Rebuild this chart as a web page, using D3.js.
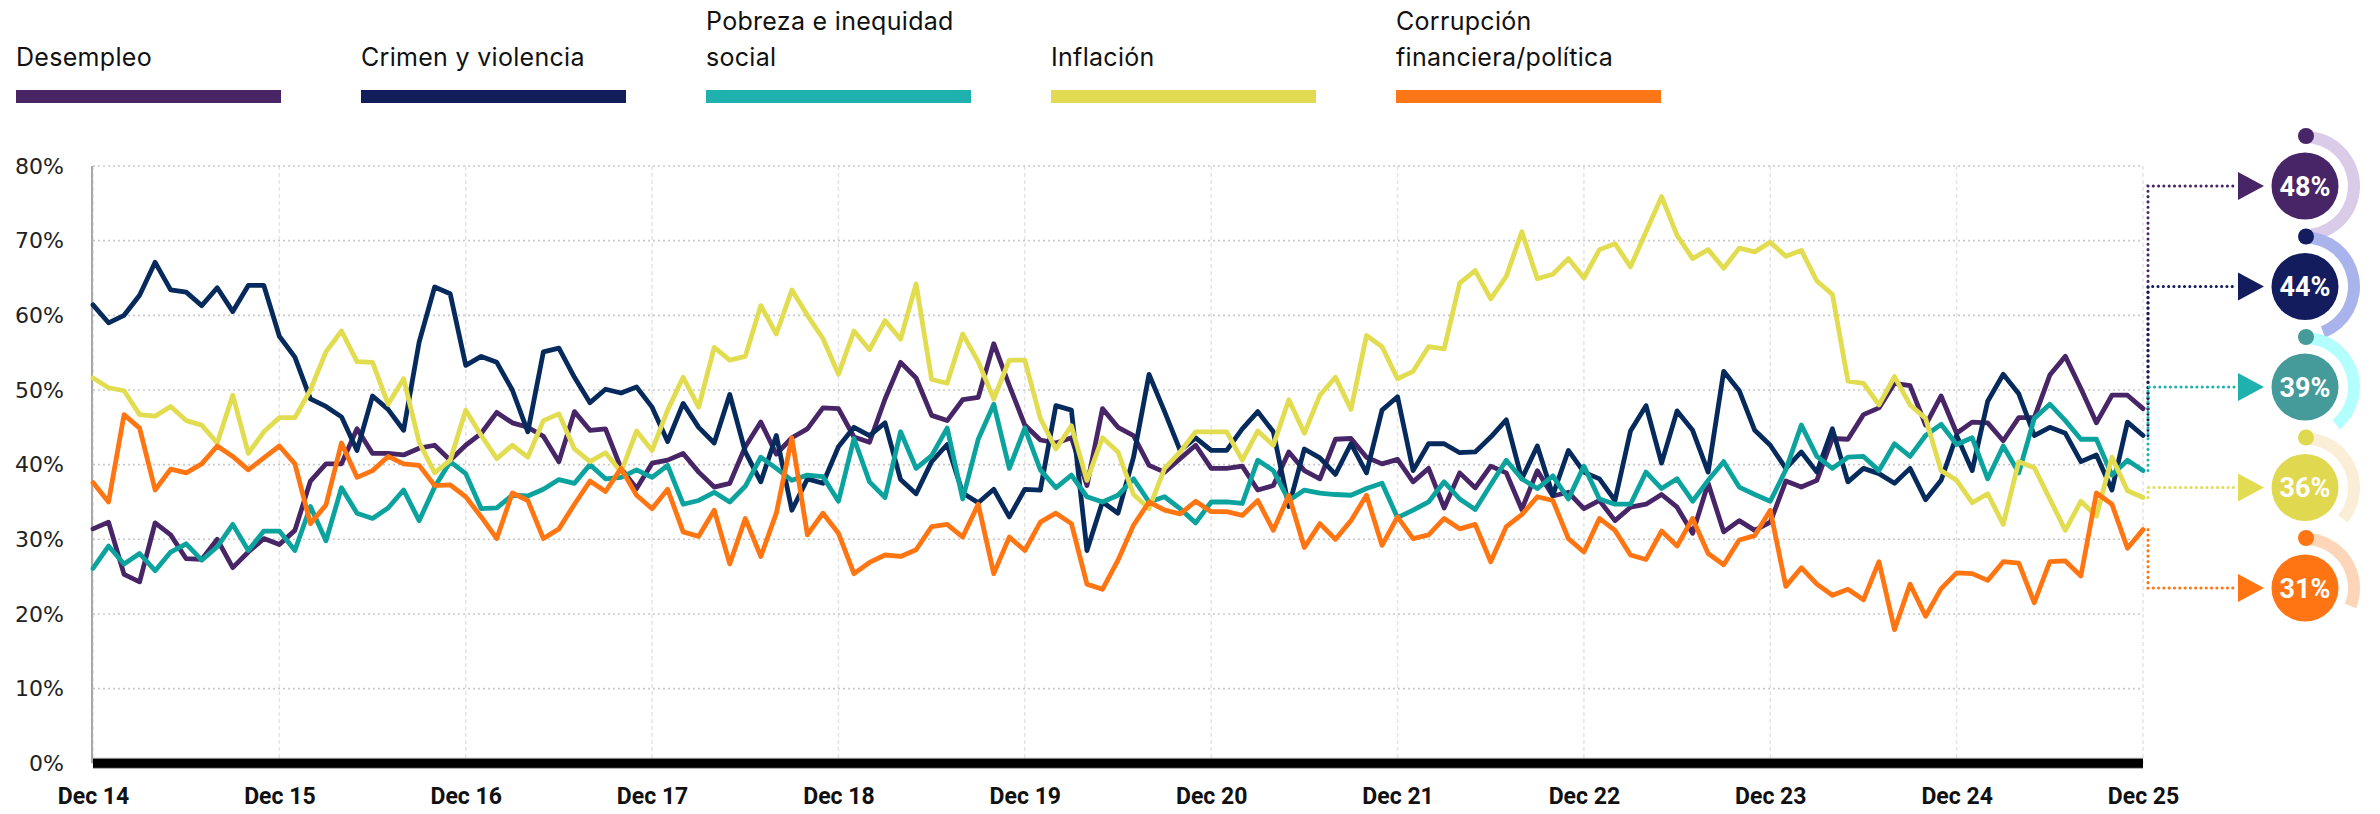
<!DOCTYPE html>
<html><head><meta charset="utf-8">
<script src="https://cdn.jsdelivr.net/npm/d3@7"></script>
<style>
html,body{margin:0;padding:0;background:#fff;}
svg{display:block;}
</style></head>
<body>
<svg id="chart" width="2380" height="814"></svg>
<script>
const seriesNames = ["Desempleo", "Crimen y violencia", "Pobreza e inequidad social", "Inflación", "Corrupción financiera/política"];
const legendLines = [["Desempleo"], ["Crimen y violencia"], ["Pobreza e inequidad", "social"], ["Inflación"], ["Corrupción", "financiera/política"]];
const xTickLabels = ["Dec 14","Dec 15","Dec 16","Dec 17","Dec 18","Dec 19","Dec 20","Dec 21","Dec 22","Dec 23","Dec 24","Dec 25"];
const yTicks = [0,10,20,30,40,50,60,70,80];

const desempleo = [31.4,32.3,25.3,24.3,32.2,30.6,27.4,27.3,30.0,26.2,28.3,30.1,29.3,31.2,37.8,40.1,40.1,44.8,41.5,41.5,
41.3,42.2,42.6,40.6,42.6,44.2,47.0,45.6,45.0,43.8,40.4,47.1,44.6,44.8,39.5,36.8,40.2,40.6,41.5,39.0,
37.0,37.5,42.4,45.7,41.4,43.6,44.8,47.6,47.5,43.7,43.0,48.8,53.7,51.6,46.6,45.9,48.7,49.0,56.2,50.6,
45.3,43.3,42.9,43.6,37.2,47.5,45.0,43.9,39.9,39.0,40.8,42.6,39.5,39.5,39.8,36.6,37.2,41.7,39.2,38.1,
43.4,43.5,41.0,40.1,40.7,37.7,39.5,34.2,38.9,36.9,39.8,38.9,34.0,39.2,35.8,36.3,34.1,35.2,32.5,34.3,
34.7,36.0,34.3,30.8,37.5,31.0,32.5,31.2,32.3,37.8,37.0,37.9,43.5,43.4,46.7,47.6,50.9,50.6,45.3,49.2,
44.2,45.7,45.6,43.2,46.3,46.3,52.0,54.5,50.2,45.6,49.3,49.3,47.5];

const crimen = [61.4,59.0,60.0,62.7,67.1,63.4,63.1,61.3,63.7,60.5,64.0,64.0,57.2,54.4,48.8,47.8,46.4,41.9,49.2,47.4,
44.6,56.4,63.8,62.9,53.3,54.5,53.7,50.0,44.4,55.1,55.6,51.7,48.3,50.1,49.6,50.4,47.7,43.1,48.2,45.0,
42.9,49.4,41.7,37.7,43.9,33.9,38.1,37.5,42.4,45.0,43.9,45.6,38.0,36.1,40.4,42.7,36.2,34.9,36.7,33.0,
36.7,36.6,47.9,47.3,28.5,35.0,33.5,41.0,52.1,47.1,41.9,43.6,41.9,41.9,44.8,47.1,44.4,34.4,42.1,40.9,
38.7,42.8,38.9,47.3,49.1,39.2,42.8,42.8,41.6,41.7,43.7,46.0,38.1,42.5,35.9,41.9,39.0,38.1,35.2,44.5,
47.9,40.2,47.2,44.6,39.0,52.5,49.9,44.6,42.6,39.5,41.7,39.0,44.8,37.7,39.5,38.8,37.5,39.5,35.3,37.9,
43.9,39.2,48.5,52.1,49.5,43.9,45.0,44.2,40.4,41.3,36.6,45.7,43.9];

const pobreza = [26.1,29.1,26.7,28.1,25.8,28.3,29.4,27.2,29.0,32.0,28.5,31.1,31.1,28.5,34.4,29.8,36.9,33.5,32.8,34.2,
36.6,32.5,37.0,40.4,38.8,34.1,34.2,35.9,35.8,36.7,38.0,37.5,40.0,38.1,38.3,39.3,38.3,39.9,34.7,35.2,
36.3,35.0,37.1,41.0,39.5,37.9,38.6,38.4,35.1,43.5,37.7,35.6,44.4,39.5,41.2,44.9,35.4,43.4,48.1,39.5,
44.9,39.3,36.9,38.6,35.7,35.0,35.9,38.1,35.0,35.7,34.1,32.2,35.0,35.0,34.8,40.6,39.2,35.2,36.6,36.2,
36.0,35.9,36.8,37.5,32.9,33.9,35.0,37.7,35.4,34.0,37.3,40.6,38.1,36.8,38.5,35.4,39.8,35.4,34.7,34.7,
39.0,36.8,38.1,35.1,37.9,40.4,37.0,36.0,35.1,39.3,45.3,41.1,39.5,41.0,41.1,39.2,42.8,41.1,43.9,45.4,
42.7,43.6,38.1,42.5,38.9,46.2,48.1,45.9,43.4,43.4,38.6,40.6,39.2];

const inflacion = [51.6,50.3,49.9,46.7,46.5,47.8,45.9,45.3,42.9,49.3,41.5,44.4,46.3,46.3,50.0,55.1,57.9,53.8,53.7,48.1,
51.5,43.0,38.9,40.6,47.3,43.9,40.8,42.6,41.0,45.9,46.8,42.1,40.4,41.6,39.0,44.5,41.9,47.3,51.7,47.7,
55.7,54.0,54.5,61.3,57.5,63.4,60.0,56.9,52.1,57.9,55.4,59.3,56.8,64.2,51.4,50.9,57.5,53.8,48.8,54.0,
54.0,46.2,42.1,45.2,37.9,43.6,41.7,36.0,34.1,39.5,41.7,44.4,44.4,44.4,40.6,44.5,42.6,48.7,44.2,49.3,
51.7,47.4,57.3,55.8,51.5,52.5,55.8,55.5,64.3,66.0,62.2,65.2,71.2,64.9,65.5,67.6,65.0,68.8,69.6,66.5,
71.2,75.9,70.7,67.6,68.8,66.3,69.0,68.5,69.8,67.9,68.7,64.6,62.8,51.2,50.9,48.0,51.8,48.0,46.2,39.2,
37.9,34.9,36.1,32.0,40.4,39.6,35.4,31.2,35.1,33.1,41.0,36.5,35.6];

const corrupcion = [37.6,35.0,46.7,44.9,36.6,39.4,38.9,40.1,42.5,41.1,39.3,40.9,42.5,40.1,32.1,34.6,42.9,38.3,39.2,41.1,
40.1,39.9,37.2,37.3,35.7,33.0,30.1,36.2,35.2,30.1,31.4,34.7,37.8,36.4,39.5,35.9,34.1,36.7,31.0,30.4,
33.9,26.7,32.8,27.7,33.5,43.6,30.6,33.5,30.8,25.4,26.9,27.9,27.7,28.6,31.7,32.0,30.3,34.7,25.4,30.3,
28.5,32.3,33.5,32.1,24.0,23.3,27.2,31.9,35.0,33.9,33.4,35.1,33.7,33.7,33.2,35.2,31.2,35.9,28.9,32.1,
30.0,32.5,35.9,29.2,33.0,30.1,30.6,32.8,31.4,32.0,27.0,31.7,33.3,35.7,35.2,30.1,28.3,32.8,31.2,27.9,
27.3,31.1,29.1,32.8,28.1,26.6,29.9,30.5,33.9,23.7,26.2,24.0,22.5,23.3,21.9,27.0,17.9,24.0,19.7,23.4,
25.5,25.4,24.5,27.0,26.8,21.5,27.0,27.1,25.1,36.2,34.7,28.8,31.3];

const seriesData = [desempleo, crimen, pobreza, inflacion, corrupcion];
const lineColors = ["#472566", "#062a5c", "#0ca39f", "#e2dc50", "#ff7512"];
const legendColors = ["#4a2566", "#121d5b", "#1fb1ae", "#e2db52", "#ff7616"];
const badgeColors = ["#472566", "#131c5c", "#459a9a", "#e0d94f", "#ff7514"];
const arcColors = ["#dacbe9", "#aab4ec", "#b3fffd", "#faeed6", "#fdd6b9"];
const connectorColors = ["#472566", "#131c5c", "#1fb1ae", "#e2dc52", "#ff7514"];

const svg = d3.select("#chart");
const x = d3.scaleLinear().domain([0, 132]).range([93, 2143]);
const y = d3.scaleLinear().domain([0, 80]).range([763.3, 166]);

// Legend
const leg = svg.append("g");
legendLines.forEach((lines, i) => {
  const lx = 16 + i * 345;
  const t = leg.append("text").attr("x", lx).attr("font-family", "Inter, Roboto, sans-serif")
    .attr("font-size", 25).attr("letter-spacing", 0.3).attr("fill", "#111");
  if (lines.length === 1) {
    t.append("tspan").attr("x", lx).attr("y", 66).text(lines[0]);
  } else {
    t.append("tspan").attr("x", lx).attr("y", 30).text(lines[0]);
    t.append("tspan").attr("x", lx).attr("y", 66).text(lines[1]);
  }
  leg.append("rect").attr("x", lx).attr("y", 90).attr("width", 265).attr("height", 13).attr("fill", legendColors[i]);
});

// Vertical gridlines
svg.append("g").selectAll("line").data(xTickLabels).join("line")
  .attr("x1", (d, i) => x(i * 12)).attr("x2", (d, i) => x(i * 12))
  .attr("y1", y(80)).attr("y2", y(0))
  .attr("stroke", "#e4e4e4").attr("stroke-width", 1.5).attr("stroke-dasharray", "4,3");

// Horizontal gridlines
svg.append("g").selectAll("line").data(yTicks.filter(d => d > 0)).join("line")
  .attr("x1", x(0)).attr("x2", x(132))
  .attr("y1", d => y(d)).attr("y2", d => y(d))
  .attr("stroke", "#c9c9c9").attr("stroke-width", 1.6).attr("stroke-dasharray", "2,3");

// Y axis line
svg.append("line").attr("x1", x(0) - 1).attr("x2", x(0) - 1).attr("y1", y(80)).attr("y2", y(0))
  .attr("stroke", "#a8a8a8").attr("stroke-width", 2);

// Y axis labels
const yAxis = d3.axisLeft(y).tickValues(yTicks).tickFormat(d => d + "%").tickSize(0).tickPadding(0);
const yg = svg.append("g").attr("transform", "translate(64,0)").call(yAxis);
yg.select(".domain").remove();
yg.selectAll("text").attr("font-family", "'DejaVu Sans', sans-serif").attr("font-size", 22).attr("fill", "#222");

// Lines
const line = d3.line().x((d, i) => x(i)).y(d => y(d));
svg.append("g").selectAll("path").data(seriesData).join("path")
  .attr("d", d => line(d))
  .attr("fill", "none")
  .attr("stroke", (d, i) => lineColors[i])
  .attr("stroke-width", 4.8)
  .attr("stroke-linejoin", "round")
  .attr("stroke-linecap", "round");

// Bottom axis bar
svg.append("rect").attr("x", x(0)).attr("y", y(0) - 5.5).attr("width", x(132) - x(0)).attr("height", 11).attr("fill", "#a0a0a0");
svg.append("rect").attr("x", x(0)).attr("y", y(0) - 4.5).attr("width", x(132) - x(0)).attr("height", 9).attr("fill", "#000");

// X axis labels
const xAxis = d3.axisBottom(x).tickValues(d3.range(0, 133, 12)).tickFormat((d) => xTickLabels[d / 12]).tickSize(0).tickPadding(0);
const xg = svg.append("g").attr("transform", "translate(0,788)").call(xAxis);
xg.select(".domain").remove();
xg.selectAll("text").attr("font-family", "Roboto, sans-serif").attr("font-weight", 700).attr("font-size", 23).attr("fill", "#111");

// Badges
const badgeX = 2305;
const arcGen = d3.arc().innerRadius(43).outerRadius(55).startAngle(0);
seriesData.forEach((s, i) => {
  const last = s[s.length - 1];
  const val = Math.round(last);
  const by = 186 + i * 100.5;
  const g = svg.append("g");
  g.append("path")
    .attr("d", `M${x(132) + 5},${y(last)} V${by} H2236`)
    .attr("fill", "none").attr("stroke", connectorColors[i]).attr("stroke-width", 3)
    .attr("stroke-dasharray", "0.1,5.2").attr("stroke-linecap", "round");
  g.append("path").attr("d", `M2238,${by - 14} L2264,${by} L2238,${by + 14} Z`).attr("fill", connectorColors[i]);
  g.append("path").attr("transform", `translate(${badgeX},${by})`)
    .attr("d", arcGen.endAngle(val / 100 * 2 * Math.PI)()).attr("fill", arcColors[i]);
  g.append("circle").attr("cx", badgeX + 1).attr("cy", by - 50).attr("r", 8).attr("fill", badgeColors[i]);
  g.append("circle").attr("cx", badgeX).attr("cy", by).attr("r", 33.5).attr("fill", badgeColors[i]);
  g.append("text").attr("x", badgeX).attr("y", by).attr("dy", "0.36em").attr("text-anchor", "middle")
    .attr("font-family", "Roboto, sans-serif").attr("font-weight", 700).attr("font-size", 27).attr("fill", "#fff")
    .text(val + "%");
});
</script>
</body></html>
